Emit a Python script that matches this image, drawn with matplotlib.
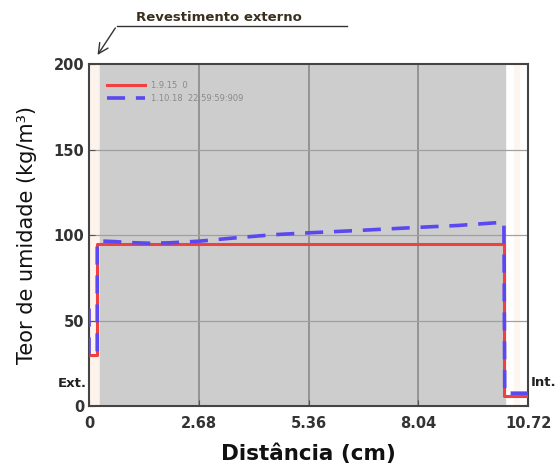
import matplotlib
matplotlib.use("Agg")
import matplotlib.pyplot as plt

# Data
red_x = [0.0, 0.2, 0.2, 10.13, 10.13, 10.72]
red_y = [30, 30, 95, 95, 6, 6]
blue_x = [0.0, 0.0, 0.2, 0.2, 0.3, 0.6, 1.0, 1.5, 2.0, 2.68, 3.5, 4.5, 5.36, 6.5, 8.04, 9.0, 10.0, 10.13, 10.15, 10.72]
blue_y = [57, 30, 30, 96, 96.5, 96.2, 95.6, 95.2, 95.5, 96.4, 98.2, 100.2, 101.3, 102.6, 104.5, 105.6, 107.3, 107.3, 7.5, 7.5]
legend_labels = ["1.9.15  0", "1.10.18  22:59:59:909"]
xticks = [0, 2.68, 5.36, 8.04, 10.72]
xtick_labels = ["0", "2.68", "5.36", "8.04", "10.72"]
yticks = [0, 50, 100, 150, 200]

fig = plt.figure(figsize=(5.6, 4.68), dpi=100)
ax = fig.add_axes([0.159, 0.1325, 0.784, 0.7305])
ax.set_xlim(0, 10.72)
ax.set_ylim(0, 200)
ax.set_facecolor("white")
ax.axvspan(0, 0.27, color="#fcf3ec", zorder=0)
ax.axvspan(0.27, 10.15, color="#cdcdcd", zorder=0)
ax.axvspan(10.38, 10.5, color="#fdf5ef", zorder=0)

for x in xticks[1:-1]:
    ax.axvline(x, color="#8a8a8a", lw=1.2, zorder=1)
for y in yticks[1:-1]:
    ax.axhline(y, color="#a0a0a0", lw=0.9, zorder=1)

l1, = ax.plot(red_x, red_y, color="#f04040", lw=2.2, zorder=3, label=legend_labels[0])
l2, = ax.plot(blue_x, blue_y, color="#5a48f0", lw=2.6, ls=(0, (5, 3)), zorder=4, label=legend_labels[1])

leg = ax.legend(loc="upper left", bbox_to_anchor=(0.03, 0.965), frameon=False,
                fontsize=6, handlelength=4.5, labelspacing=0.5, borderaxespad=0.2)
for t in leg.get_texts():
    t.set_color("#8a8a8a")

ax.set_xticks(xticks)
ax.set_xticklabels(xtick_labels)
ax.set_yticks(yticks)
ax.tick_params(direction="in", length=4, color="#555555", labelsize=10.5, labelcolor="#333333")
ax.tick_params(axis="x", pad=7)
for lab in ax.get_xticklabels() + ax.get_yticklabels():
    lab.set_fontweight("bold")
for s in ax.spines.values():
    s.set_color("#444444")
    s.set_linewidth(1.5)

ax.set_xlabel("Distância (cm)", fontsize=15.5, fontweight="bold", color="#111111", labelpad=9)
ax.set_ylabel("Teor de umidade (kg/m³)", fontsize=15, color="#111111", labelpad=12)

# Annotation
ax.annotate("", xy=(0.17, 204), xytext=(0.68, 222.5), annotation_clip=False,
            arrowprops=dict(arrowstyle="->", color="#333333", lw=1.0, mutation_scale=18))
ax.plot([0.68, 6.3], [222.5, 222.5], color="#333333", lw=1.0, clip_on=False)
ax.text(3.17, 227, "Revestimento externo", fontsize=9.5, fontweight="bold", color="#3a3020",
        ha="center", va="center", clip_on=False)
ax.text(-0.05, 13, "Ext.", fontsize=9.5, fontweight="bold", color="#222222",
        ha="right", va="center", clip_on=False)
ax.text(10.78, 14, "Int.", fontsize=9.5, fontweight="bold", color="#222222",
        ha="left", va="center", clip_on=False)

fig.savefig("out.png", dpi=100)
